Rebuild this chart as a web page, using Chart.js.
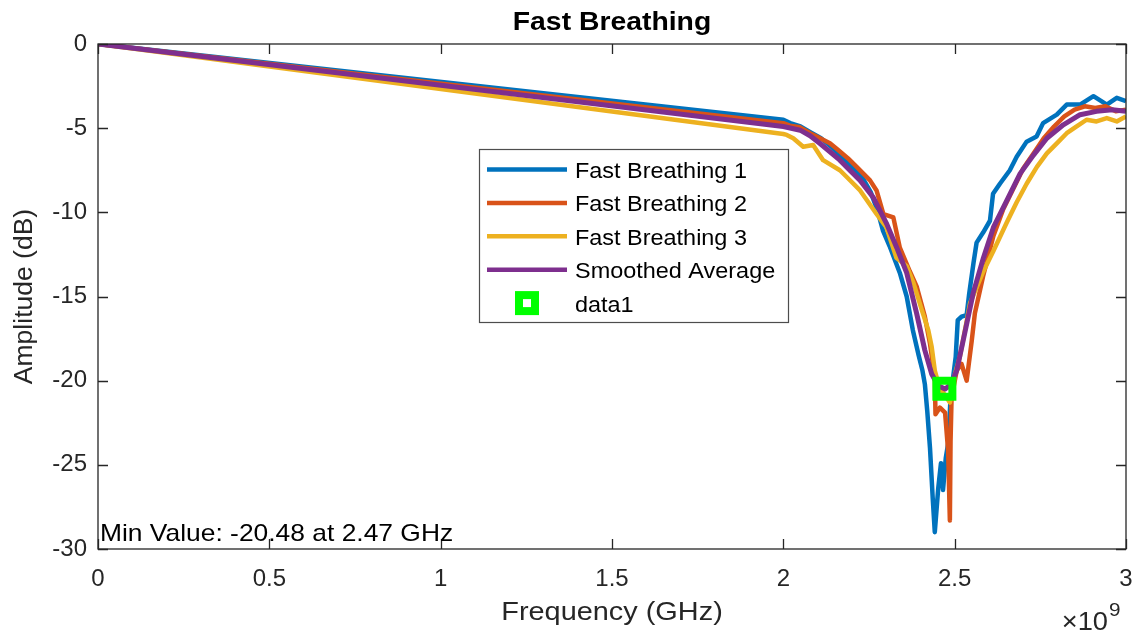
<!DOCTYPE html>
<html>
<head>
<meta charset="utf-8">
<title>Fast Breathing</title>
<script src="https://cdn.jsdelivr.net/npm/chart.js@4.4.1/dist/chart.umd.min.js"></script>
<style>
  html, body { margin: 0; padding: 0; background: #fff; }
  #wrap { width: 1135px; height: 637px; }
</style>
</head>
<body>
<div id="wrap"><canvas id="breathChart" width="1135" height="637"></canvas></div>
<script>
// frequencies in GHz (axis shows x10^9), amplitudes in dB
const freqFB1 = [0, 2.000, 2.020, 2.050, 2.080, 2.110, 2.140, 2.170, 2.200, 2.230, 2.255, 2.275, 2.291, 2.310, 2.340, 2.360, 2.378, 2.395, 2.406, 2.413, 2.420, 2.428, 2.436, 2.442, 2.452, 2.460, 2.466, 2.474, 2.482, 2.487, 2.493, 2.503, 2.509, 2.520, 2.535, 2.542, 2.555, 2.564, 2.583, 2.603, 2.612, 2.632, 2.661, 2.681, 2.710, 2.739, 2.758, 2.798, 2.827, 2.866, 2.905, 2.944, 2.973, 3.000];
const ampFB1  = [0, -4.50, -4.70, -4.90, -5.25, -5.60, -6.10, -6.70, -7.30, -7.90, -8.80, -9.90, -11.1, -12.0, -13.6, -15.0, -17.0, -18.5, -19.4, -20.2, -21.8, -24.0, -27.0, -29.0, -26.4, -24.9, -26.5, -24.6, -23.6, -21.4, -20.2, -18.6, -16.4, -16.2, -16.1, -14.9, -13.0, -11.8, -11.2, -10.5, -8.9, -8.3, -7.5, -6.7, -5.8, -5.5, -4.7, -4.2, -3.6, -3.6, -3.1, -3.6, -3.2, -3.4];

const freqFB2 = [0, 2.000, 2.019, 2.049, 2.078, 2.107, 2.136, 2.160, 2.189, 2.214, 2.253, 2.272, 2.292, 2.321, 2.340, 2.369, 2.389, 2.413, 2.428, 2.442, 2.444, 2.457, 2.472, 2.481, 2.486, 2.488, 2.491, 2.506, 2.520, 2.535, 2.540, 2.550, 2.559, 2.583, 2.613, 2.642, 2.671, 2.700, 2.730, 2.760, 2.790, 2.820, 2.850, 2.880, 2.910, 2.940, 2.970, 3.000];
const ampFB2  = [0, -4.70, -4.85, -4.95, -5.30, -5.60, -5.90, -6.30, -6.80, -7.30, -8.10, -8.70, -10.1, -10.3, -12.1, -13.5, -14.4, -16.2, -17.8, -19.8, -22.0, -21.6, -21.9, -24.2, -28.3, -23.6, -21.0, -19.4, -19.0, -20.0, -19.2, -17.6, -16.0, -13.8, -11.4, -9.8, -8.6, -7.4, -6.5, -5.6, -4.9, -4.3, -3.9, -3.7, -3.8, -3.7, -4.0, -3.9];

const freqFB3 = [0, 2.000, 2.010, 2.029, 2.058, 2.087, 2.116, 2.165, 2.185, 2.224, 2.272, 2.301, 2.330, 2.360, 2.380, 2.404, 2.423, 2.433, 2.442, 2.457, 2.470, 2.486, 2.501, 2.515, 2.545, 2.584, 2.613, 2.652, 2.681, 2.710, 2.740, 2.769, 2.798, 2.827, 2.856, 2.885, 2.914, 2.944, 2.973, 3.000];
const ampFB3  = [0, -5.35, -5.40, -5.60, -6.10, -6.00, -6.90, -7.50, -7.90, -8.70, -10.1, -10.9, -12.7, -13.2, -14.2, -15.8, -17.0, -18.0, -19.4, -20.5, -20.8, -21.3, -19.6, -18.6, -15.4, -13.5, -12.3, -10.6, -9.4, -8.3, -7.3, -6.5, -5.9, -5.3, -4.9, -4.5, -4.6, -4.4, -4.6, -4.3];

const freqAvg = [0, 2.000, 2.049, 2.078, 2.107, 2.136, 2.165, 2.194, 2.224, 2.262, 2.302, 2.331, 2.360, 2.389, 2.413, 2.433, 2.452, 2.472, 2.490, 2.506, 2.525, 2.554, 2.584, 2.613, 2.652, 2.691, 2.730, 2.769, 2.817, 2.866, 2.914, 2.960, 3.000];
const ampAvg  = [0, -4.90, -5.12, -5.45, -5.91, -6.40, -6.90, -7.50, -8.10, -9.10, -10.7, -12.1, -13.6, -16.0, -18.2, -19.6, -20.3, -20.5, -20.2, -19.4, -17.6, -14.8, -12.7, -10.9, -9.3, -7.7, -6.6, -5.6, -4.8, -4.2, -4.0, -3.9, -4.0];

const minFreq = [2.47];
const minAmp = [-20.48];

const seriesLabels = ['Fast Breathing 1', 'Fast Breathing 2', 'Fast Breathing 3', 'Smoothed Average', 'data1'];
const xTickLabels = ['0', '0.5', '1', '1.5', '2', '2.5', '3'];
const yTickLabels = ['-30', '-25', '-20', '-15', '-10', '-5', '0'];

const FONT = '"Liberation Sans", Arial, Helvetica, sans-serif';
const AXIS_COLOR = '#262626';
const STRETCH = 1.09;

function toPoints(xs, ys) {
    return xs.map((x, i) => ({ x: x, y: ys[i] }));
}

function stretchedText(ctx, text, x, y, align, sx) {
    ctx.save();
    ctx.translate(x, y);
    ctx.scale(sx, 1);
    ctx.textAlign = align;
    ctx.fillText(text, 0, 0);
    ctx.restore();
}

const matlabAxes = {
    id: 'matlabAxes',
    afterDatasetsDraw(chart) {
        const ctx = chart.ctx;
        const a = chart.chartArea;
        const xs = chart.scales.x;
        const ys = chart.scales.y;
        const tick = 10;

        ctx.save();
        ctx.strokeStyle = AXIS_COLOR;
        ctx.lineWidth = 1.3;
        ctx.strokeRect(a.left, a.top, a.right - a.left, a.bottom - a.top);

        ctx.beginPath();
        xs.ticks.forEach(t => {
            const px = Math.round(xs.getPixelForValue(t.value)) + 0.5;
            ctx.moveTo(px, a.bottom); ctx.lineTo(px, a.bottom - tick);
            ctx.moveTo(px, a.top); ctx.lineTo(px, a.top + tick);
        });
        ys.ticks.forEach(t => {
            const py = Math.round(ys.getPixelForValue(t.value)) + 0.5;
            ctx.moveTo(a.left, py); ctx.lineTo(a.left + tick, py);
            ctx.moveTo(a.right, py); ctx.lineTo(a.right - tick, py);
        });
        ctx.stroke();

        // annotation of the minimum
        ctx.fillStyle = '#000';
        ctx.font = '24px ' + FONT;
        ctx.textBaseline = 'alphabetic';
        stretchedText(ctx, 'Min Value: ' + minAmp[0].toFixed(2) + ' at ' + minFreq[0].toFixed(2) + ' GHz', a.left + 2, 541, 'left', 1.1);
        ctx.restore();
    },
    afterDraw(chart) {
        const ctx = chart.ctx;
        const a = chart.chartArea;
        const mid = (a.left + a.right) / 2;

        ctx.save();
        ctx.textBaseline = 'alphabetic';

        // title
        ctx.fillStyle = '#000';
        ctx.font = 'bold 26px ' + FONT;
        stretchedText(ctx, 'Fast Breathing', mid, 30, 'center', STRETCH);

        // axis titles
        ctx.fillStyle = AXIS_COLOR;
        ctx.font = '26.5px ' + FONT;
        stretchedText(ctx, 'Frequency (GHz)', mid, 620, 'center', STRETCH);

        ctx.save();
        ctx.translate(32, (a.top + a.bottom) / 2);
        ctx.rotate(-Math.PI / 2);
        ctx.textAlign = 'center';
        ctx.fillText('Amplitude (dB)', 0, 0);
        ctx.restore();

        // exponent
        ctx.font = '25px ' + FONT;
        stretchedText(ctx, '\u00d710', 1108, 630, 'right', STRETCH);
        ctx.font = '19px ' + FONT;
        stretchedText(ctx, '9', 1109, 616, 'left', STRETCH);

        // legend
        const box = { left: 479, top: 149, right: 788, bottom: 322 };
        ctx.fillStyle = '#fff';
        ctx.fillRect(box.left, box.top, box.right - box.left, box.bottom - box.top);
        ctx.strokeStyle = '#4d4d4d';
        ctx.lineWidth = 1.2;
        ctx.strokeRect(box.left + 0.5, box.top + 0.5, box.right - box.left, box.bottom - box.top);

        ctx.font = '21.5px ' + FONT;
        chart.data.datasets.forEach((ds, i) => {
            const rowY = 169.5 + i * 33.4;
            if (ds.showLine === false) {
                ctx.strokeStyle = ds.borderColor;
                ctx.lineWidth = 8;
                ctx.fillStyle = '#fff';
                ctx.fillRect(519, rowY - 8, 16, 16);
                ctx.strokeRect(519, rowY - 8, 16, 16);
            } else {
                ctx.strokeStyle = ds.borderColor;
                ctx.lineWidth = 4.5;
                ctx.beginPath();
                ctx.moveTo(487, rowY);
                ctx.lineTo(567, rowY);
                ctx.stroke();
            }
            ctx.fillStyle = '#000';
            stretchedText(ctx, ds.label, 575, rowY + 8.5, 'left', STRETCH);
        });
        ctx.restore();
    }
};

const lineStyle = {
    pointRadius: 0,
    pointHoverRadius: 0,
    borderWidth: 4.5,
    tension: 0,
    fill: false,
    borderJoinStyle: 'round'
};

const ctx = document.getElementById('breathChart').getContext('2d');
const breathChart = new Chart(ctx, {
    type: 'line',
    data: {
        datasets: [
            Object.assign({ label: seriesLabels[0], data: toPoints(freqFB1, ampFB1), borderColor: '#0072BD', backgroundColor: '#0072BD', order: 5 }, lineStyle),
            Object.assign({ label: seriesLabels[1], data: toPoints(freqFB2, ampFB2), borderColor: '#D95319', backgroundColor: '#D95319', order: 4 }, lineStyle),
            Object.assign({ label: seriesLabels[2], data: toPoints(freqFB3, ampFB3), borderColor: '#EDB120', backgroundColor: '#EDB120', order: 3 }, lineStyle),
            Object.assign({ label: seriesLabels[3], data: toPoints(freqAvg, ampAvg), borderColor: '#7E2F8E', backgroundColor: '#7E2F8E', order: 2 }, lineStyle, { borderWidth: 5 }),
            {
                label: seriesLabels[4],
                data: toPoints(minFreq, minAmp),
                showLine: false,
                pointStyle: 'rect',
                pointRadius: 11.3,
                pointHoverRadius: 11.3,
                pointBorderWidth: 8,
                borderWidth: 8,
                borderColor: '#00FF00',
                backgroundColor: 'rgba(0,0,0,0)',
                order: 1
            }
        ]
    },
    options: {
        responsive: false,
        animation: false,
        devicePixelRatio: 1,
        layout: { autoPadding: false, padding: { top: 44, right: 9, left: 0, bottom: 0 } },
        plugins: {
            legend: { display: false },
            title: { display: false },
            tooltip: { enabled: false }
        },
        events: [],
        scales: {
            x: {
                type: 'linear',
                min: 0,
                max: 3,
                border: { display: false },
                grid: { display: false, drawTicks: false, tickLength: 0 },
                ticks: {
                    stepSize: 0.5,
                    autoSkip: false,
                    maxRotation: 0,
                    padding: 16,
                    color: AXIS_COLOR,
                    font: { family: FONT, size: 24 },
                    callback: (v, i) => xTickLabels[i]
                },
                afterFit: (s) => {
                    s.height = 88;
                    s.paddingLeft = 0;
                    s.paddingRight = 0;
                }
            },
            y: {
                type: 'linear',
                min: -30,
                max: 0,
                border: { display: false },
                grid: { display: false, drawTicks: false, tickLength: 0 },
                ticks: {
                    stepSize: 5,
                    autoSkip: false,
                    padding: 11,
                    color: AXIS_COLOR,
                    font: { family: FONT, size: 24 },
                    callback: (v, i) => yTickLabels[i]
                },
                afterFit: (s) => {
                    s.width = 98;
                    s.paddingTop = 0;
                    s.paddingBottom = 0;
                }
            }
        }
    },
    plugins: [matlabAxes]
});
</script>
</body>
</html>
